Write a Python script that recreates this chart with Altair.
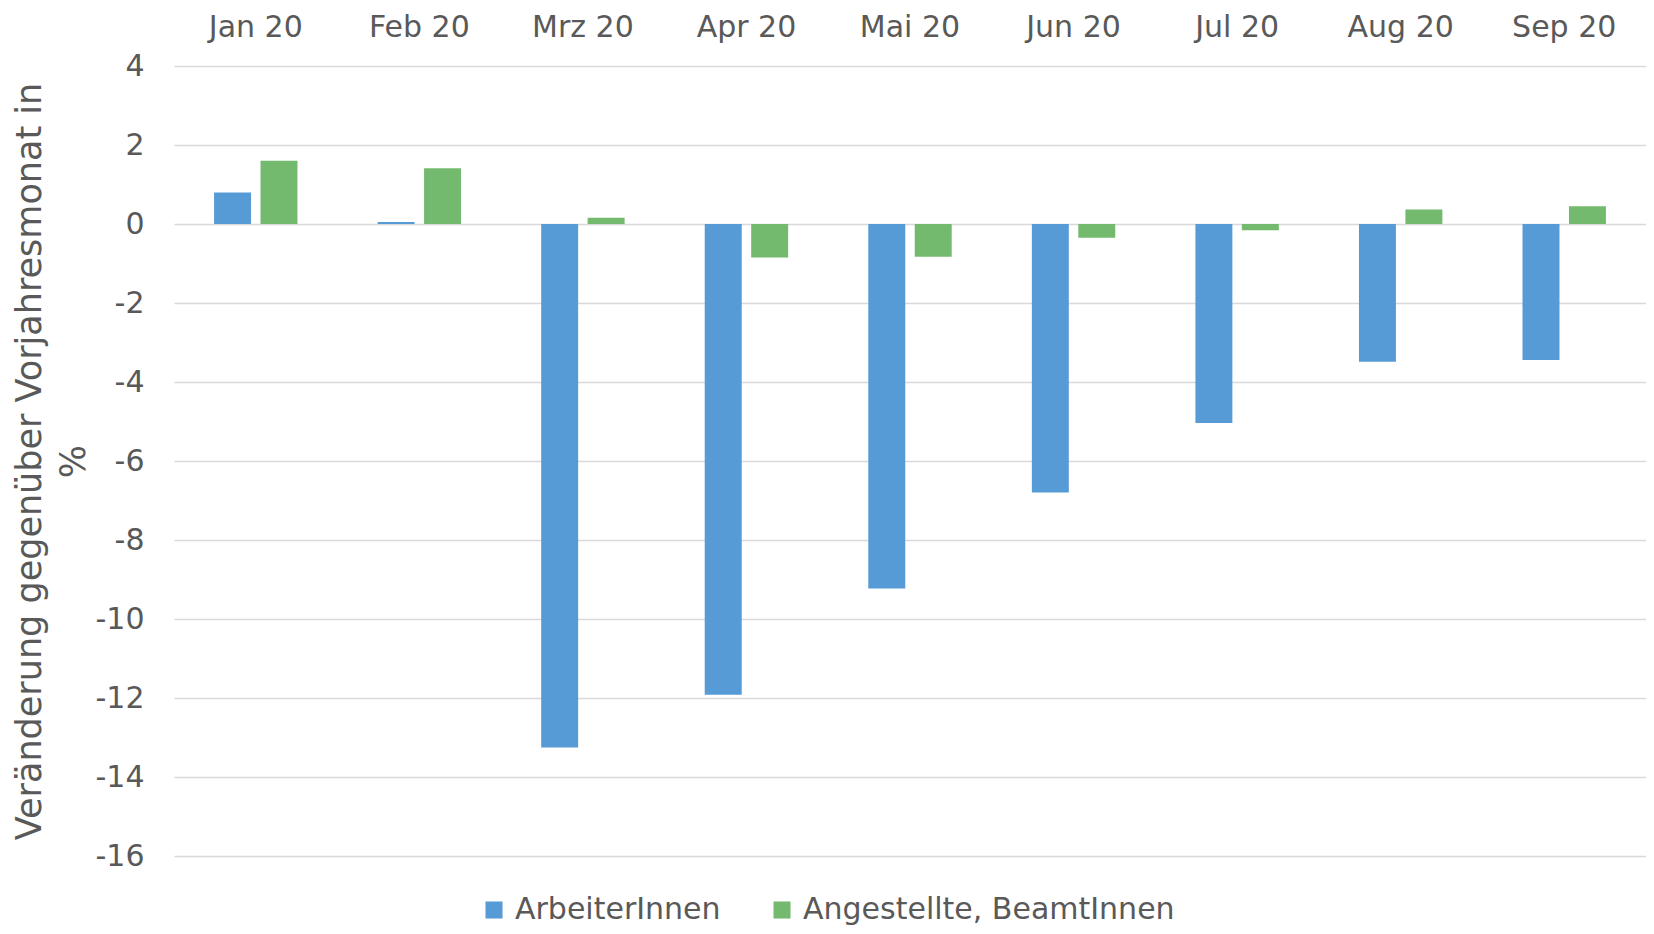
import altair as alt
import pandas as pd

months = ["Jan 20", "Feb 20", "Mrz 20", "Apr 20", "Mai 20", "Jun 20", "Jul 20", "Aug 20", "Sep 20"]
series = ["ArbeiterInnen", "Angestellte, BeamtInnen"]
arbeiter = [0.8, 0.05, -13.25, -11.92, -9.23, -6.8, -5.04, -3.49, -3.44]
angestellte = [1.6, 1.41, 0.16, -0.85, -0.83, -0.35, -0.16, 0.37, 0.45]
colors = ["#579BD6", "#73BA6E"]
y_ticks = list(range(-16, 5, 2))

rows = []
for m, a, b in zip(months, arbeiter, angestellte):
    rows.append({"Monat": m, "Serie": series[0], "Wert": a})
    rows.append({"Monat": m, "Serie": series[1], "Wert": b})
df = pd.DataFrame(rows)

FONT = "DejaVu Sans"
TXT = "#595959"

chart = alt.Chart(df).mark_bar().encode(
    x=alt.X("Monat:N", sort=months,
            scale=alt.Scale(paddingInner=0.49, paddingOuter=0.245),
            axis=alt.Axis(orient="top", title=None, labelAngle=0, ticks=False,
                          domain=False, grid=False, labelPadding=24,
                          labelFontSize=30, labelColor=TXT, labelFont=FONT)),
    xOffset=alt.XOffset("Serie:N", sort=series,
                        scale=alt.Scale(paddingInner=0.204, paddingOuter=0)),
    y=alt.Y("Wert:Q",
            scale=alt.Scale(domain=[-16, 4], nice=False, zero=False),
            axis=alt.Axis(values=y_ticks, labelExpr="'' + datum.value",
                          title=["Veränderung gegenüber Vorjahresmonat in", "%"],
                          titleFontSize=35, titleFont=FONT, titleColor=TXT,
                          titleFontWeight="normal", titleLineHeight=44,
                          titlePadding=4,
                          labelFontSize=30, labelFont=FONT, labelColor=TXT,
                          labelPadding=30, ticks=False, domain=False,
                          grid=True, gridColor="#d9d9d9", gridWidth=1.5)),
    color=alt.Color("Serie:N", sort=series,
                    scale=alt.Scale(domain=series, range=colors),
                    legend=alt.Legend(title=None, orient="none", direction="horizontal",
                                      legendX=305, legendY=829,
                                      symbolType="square", symbolSize=290,
                                      symbolStrokeWidth=0,
                                      labelFontSize=30, labelFont=FONT, labelColor=TXT,
                                      labelOffset=6, columnPadding=46,
                                      labelLimit=0)),
).properties(
    width=1472, height=790,
    autosize=alt.AutoSizeParams(type="none"),
    padding={"left": 166, "top": 58, "right": 0, "bottom": 70},
).configure_view(stroke=None)

chart.save("out.html", embed_options={"renderer": "svg", "actions": False})
